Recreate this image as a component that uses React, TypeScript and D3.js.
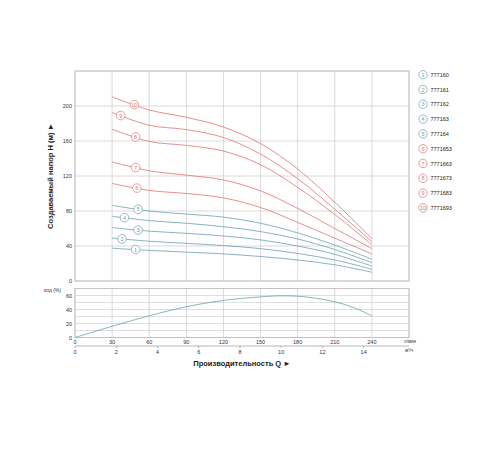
import * as d3 from 'd3';

// flow points (l/min) where the head curves were read
const flowPoints = [30, 60, 90, 120, 150, 180, 210, 240];

const head1 = [37.5, 35, 33, 31, 28, 24, 18.5, 10];
const head2 = [49, 45.5, 43, 40.5, 37, 31.5, 24, 13.5];
const head3 = [61, 57, 54.5, 51.5, 47, 40, 30.5, 17];
const head4 = [74, 69, 66, 62, 56.5, 48, 36, 21];
const head5 = [86.5, 80, 76.5, 73, 66, 55, 41, 25];
const head6 = [111.5, 103.5, 100, 95, 84, 67, 49, 31];
const head7 = [136, 126, 121, 115.5, 103, 83, 60, 37];
const head8 = [173.5, 159.5, 155, 148.5, 133, 107, 76, 41.5];
const head9 = [192.5, 178, 173, 164, 145, 117, 82, 45];
const head10 = [210.5, 195.5, 187, 176, 157, 128, 90, 48.5];

const models = ['777160', '777161', '777162', '777163', '777164', '7771653', '7771663', '7771673', '7771683', '7771693'];
const heads = [head1, head2, head3, head4, head5, head6, head7, head8, head9, head10];
// flow where the numbered badge sits on each curve
const badgeFlow = [49, 38, 51, 40, 51, 50, 49, 49, 37, 48];

const effFlow = [0, 30, 60, 90, 120, 150, 165, 180, 195, 210, 225, 240];
const effValues = [0, 16, 31, 44, 53, 58, 59.5, 59, 56, 51, 43, 31];

const flowTicks = [0, 30, 60, 90, 120, 150, 180, 210, 240];
const cubicTicks = [0, 2, 4, 6, 8, 10, 12, 14];
const headTicks = [0, 40, 80, 120, 160, 200];
const effTicks = [0, 20, 40, 60];

const RED = '#e07272';
const BLUE = '#6aa1ae';
const GRID = '#d0d0d0';
const FONT = 'Liberation Sans, Arial, sans-serif';

export default function App() {
  const x = d3.scaleLinear().domain([0, 270]).range([75, 409]);
  const y = d3.scaleLinear().domain([0, 240]).range([281, 71]);
  const ye = d3.scaleLinear().domain([0, 70]).range([337.5, 288.5]);

  const headLine = d3.line<[number, number]>()
    .x((d) => x(d[0]))
    .y((d) => y(d[1]))
    .curve(d3.curveCatmullRom.alpha(0.5));
  const effLine = d3.line<[number, number]>()
    .x((d) => x(d[0]))
    .y((d) => ye(d[1]))
    .curve(d3.curveCatmullRom.alpha(0.5));

  const colorOf = (i: number) => (i < 5 ? BLUE : RED);
  const hGrid = d3.range(0, 241, 40);
  const eGrid = d3.range(0, 71, 10);
  const vGrid = d3.range(0, 271, 30);

  return (
    <svg width={500} height={450} style={{ position: 'absolute', left: 0, top: 0, background: '#fff' }} fontFamily={FONT}>
      {/* main panel grid */}
      {hGrid.map((h) => (
        <line key={'h' + h} x1={x(0)} x2={x(270)} y1={y(h)} y2={y(h)} stroke={GRID} strokeWidth={0.8} />
      ))}
      {vGrid.map((q) => (
        <line key={'v' + q} x1={x(q)} x2={x(q)} y1={y(240)} y2={y(0)} stroke={GRID} strokeWidth={0.8} />
      ))}
      <rect x={x(0)} y={y(240)} width={x(270) - x(0)} height={y(0) - y(240)} fill="none" stroke="#bbb" strokeWidth={0.8} />
      {headTicks.map((h) => (
        <text key={'ht' + h} x={72} y={y(h) + 2} fontSize={5.5} textAnchor="end" fill="#333">{h}</text>
      ))}

      {heads.map((hs, i) => (
        <path key={'c' + i} d={headLine(flowPoints.map((q, k) => [q, hs[k]] as [number, number])) || ''}
          fill="none" stroke={colorOf(i)} strokeWidth={0.8} />
      ))}
      {heads.map((hs, i) => {
        const hAt = d3.scaleLinear().domain(flowPoints).range(hs)(badgeFlow[i]);
        const cx = x(badgeFlow[i]);
        const cy = y(hAt);
        return (
          <g key={'b' + i}>
            <circle cx={cx} cy={cy} r={4.3} fill="#fff" stroke={colorOf(i)} strokeWidth={0.7} />
            <text x={cx} y={cy + 2} fontSize={5.5} textAnchor="middle" fill={colorOf(i)}>{i + 1}</text>
          </g>
        );
      })}

      {/* efficiency panel */}
      {eGrid.map((e) => (
        <line key={'eg' + e} x1={x(0)} x2={x(270)} y1={ye(e)} y2={ye(e)} stroke={GRID} strokeWidth={0.7} />
      ))}
      {vGrid.map((q) => (
        <line key={'ev' + q} x1={x(q)} x2={x(q)} y1={ye(70)} y2={ye(0)} stroke={GRID} strokeWidth={0.8} />
      ))}
      <rect x={x(0)} y={ye(70)} width={x(270) - x(0)} height={ye(0) - ye(70)} fill="none" stroke="#bbb" strokeWidth={0.8} />
      {effTicks.map((e) => (
        <text key={'et' + e} x={72} y={ye(e) + 2} fontSize={5.5} textAnchor="end" fill="#333">{e}</text>
      ))}
      <text x={44} y={292} fontSize={5} fill="#333">кпд (%)</text>
      <path d={effLine(effFlow.map((q, k) => [q, effValues[k]] as [number, number])) || ''}
        fill="none" stroke={BLUE} strokeWidth={0.8} />

      {/* flow axes */}
      {flowTicks.map((q) => (
        <text key={'ft' + q} x={x(q)} y={343.5} fontSize={5.5} textAnchor="middle" fill="#333">{q}</text>
      ))}
      <line x1={x(0)} x2={x(270)} y1={346} y2={346} stroke="#888" strokeWidth={0.6} />
      {cubicTicks.map((m) => (
        <g key={'mt' + m}>
          <line x1={x(m * 1000 / 60)} x2={x(m * 1000 / 60)} y1={346} y2={348} stroke="#888" strokeWidth={0.6} />
          <text x={x(m * 1000 / 60)} y={354} fontSize={5.5} textAnchor="middle" fill="#333">{m}</text>
        </g>
      ))}
      <text x={404} y={343} fontSize={4.5} fill="#333">л/мин</text>
      <text x={405} y={352} fontSize={4.5} fill="#333">м³/ч</text>

      <text x={242} y={366} fontSize={7.5} fontWeight="bold" textAnchor="middle" fill="#222">Производительность Q ►</text>
      <text transform="translate(53,176) rotate(-90)" fontSize={7.5} fontWeight="bold" textAnchor="middle" fill="#222">
        Создаваемый напор H (м) ►
      </text>

      {/* legend */}
      {models.map((m, i) => {
        const ly = 74.7 + i * 14.8;
        return (
          <g key={'l' + i}>
            <circle cx={423} cy={ly} r={4.2} fill="#fff" stroke={colorOf(i)} strokeWidth={0.7} />
            <text x={423} y={ly + 2} fontSize={5.5} textAnchor="middle" fill={colorOf(i)}>{i + 1}</text>
            <text x={430.5} y={ly + 2} fontSize={5.5} fill="#222">{m}</text>
          </g>
        );
      })}
    </svg>
  );
}
